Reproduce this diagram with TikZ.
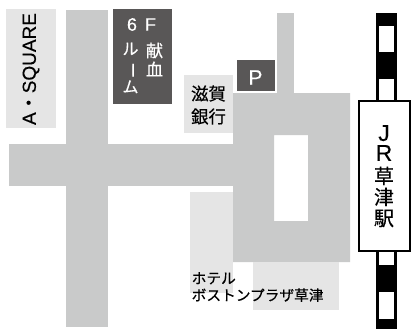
\documentclass[tikz,border=0pt]{standalone}
\usepackage{graphicx}
\usepackage{fontspec}
\setmainfont[FakeBold=0.25]{Liberation Sans}
\newfontfamily\jpf[FakeBold=0.35]{Noto Sans CJK JP}
\definecolor{road}{HTML}{C9CACA}
\definecolor{bld}{HTML}{E5E5E5}
\definecolor{darkbld}{HTML}{595757}
\tikzset{
  lbl/.style={inner sep=0pt,text=#1,align=center},
  lbl/.default=black
}
\begin{document}
\begin{tikzpicture}[x=1pt,y=-1pt]
\useasboundingbox (0,0) rectangle (411,329);
\fill[white] (0,0) rectangle (411,329);
% roads
\fill[road] (66,10) rectangle (108,327);
\fill[road] (8.5,144) rectangle (240,186);
\fill[road] (277,13) rectangle (294,100);
\fill[road,even odd rule] (233,93) rectangle (350,262) (274,135) rectangle (308,221);
% buildings
\fill[bld] (6,9) rectangle (56,128);
\fill[bld] (184,75) rectangle (233,133);
\fill[bld] (190,192) rectangle (233,293);
\fill[bld] (253,262) rectangle (339,310);
\fill[darkbld] (113,9) rectangle (172,104);
\fill[darkbld] (237,60) rectangle (275,91);
% railway
\fill[black] (376,13) rectangle (397,329);
\fill[white] (379,26) rectangle (394,52);
\fill[white] (379,79) rectangle (394,101);
\fill[white] (379,250) rectangle (394,265);
\fill[white] (379,292) rectangle (394,319);
\node[draw=black,line width=2pt,fill=white,minimum width=51.5pt,minimum height=150pt,inner sep=0pt] (station) at (384.5,176) {};
% labels
\node[lbl,rotate=90,font=\fontsize{19}{19}\selectfont] (asq) at (31,69) {A{\jpf ・}SQUARE};
\node[lbl=white,font=\fontsize{18}{18}\selectfont] (six) at (141.5,24.5) {6\hspace{8pt}F};
\node[lbl=white,font=\jpf\fontsize{16}{19}\selectfont] (ruumu) at (130.5,68) {ル\\\rotatebox[origin=c]{-90}{ー}\\ム};
\node[lbl=white,font=\jpf\fontsize{17}{19}\selectfont] (kenketsu) at (154.5,59.5) {献\\血};
\node[lbl,font=\jpf\fontsize{17.5}{23}\selectfont] (shiga) at (208.5,105) {滋賀\\銀行};
\node[lbl=white,font=\fontsize{21}{21}\selectfont] (pk) at (255.5,77.5) {P};
\node[lbl,font=\fontsize{23}{20}\selectfont] (jr) at (384,143) {J\\R};
\node[lbl,font=\jpf\fontsize{20}{21}\selectfont] (kusatsu) at (384,197) {草\\津\\駅};
\node[lbl,align=left,anchor=west,font=\jpf\fontsize{14.7}{17}\selectfont] (hotel) at (191.5,287) {ホテル\\ボストンプラザ草津};
\end{tikzpicture}
\end{document}
